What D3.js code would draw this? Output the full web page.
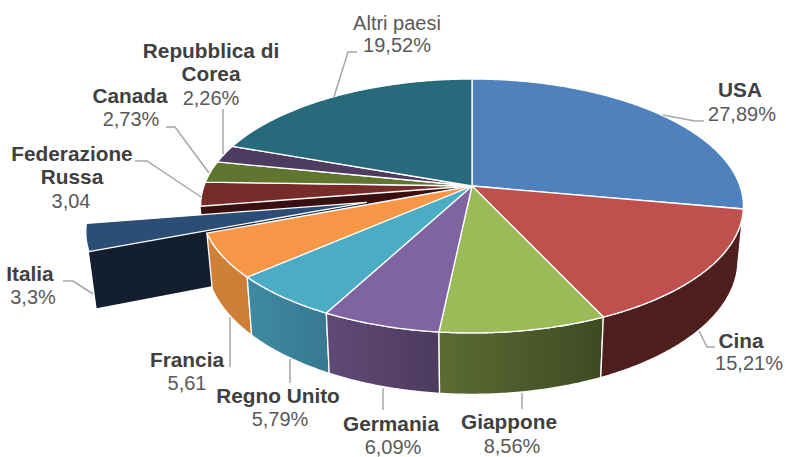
<!DOCTYPE html>
<html>
<head>
<meta charset="utf-8">
<script src="https://cdn.jsdelivr.net/npm/d3@7"></script>
<style>
  html, body { margin: 0; padding: 0; background: #fff; }
  svg { display: block; }
  text { font-family: "Liberation Sans", Arial, sans-serif; text-anchor: middle; }
</style>
</head>
<body>
<script>
const countries = ["USA", "Cina", "Giappone", "Germania", "Regno Unito", "Francia", "Italia", "Federazione Russa", "Canada", "Repubblica di Corea", "Altri paesi"];
const values = [27.89, 15.21, 8.56, 6.09, 5.79, 5.61, 3.3, 3.04, 2.73, 2.26, 19.52];
const valueLabels = ["27,89%", "15,21%", "8,56%", "6,09%", "5,79%", "5,61", "3,3%", "3,04", "2,73%", "2,26%", "19,52%"];
const topColors = ["#4f81bd", "#c0504d", "#9bbb59", "#8064a2", "#4bacc6", "#f79646", "#2c4d75", "#772c2a", "#5f7530", "#4d3b62", "#276a7c"];
// gradient of the rim, left to right on screen
const wallColors = {
  "Cina": ["#4f1f1e", "#4f1f1e"],
  "Giappone": ["#5b6c33", "#3f4a23"],
  "Germania": ["#604a76", "#4d3a5f"],
  "Regno Unito": ["#3f8ba3", "#37788f"],
  "Francia": ["#d08038", "#cc7f38"]
};

const width = 786, height = 457;
const cx = 472, cy = 186;
const A = 268, B = 123.8, tilt = 0.1575;   // perspective of the disc
const depth = 53, shrinkX = 0.98, growY = 1.057;   // bottom ring
const pull = 0.40, pullDrop = 0.025;               // exploded slice

const svg = d3.select("body").append("svg")
  .attr("width", width)
  .attr("height", height);

const x = d3.scaleLinear().domain([-1, 1]).range([-A, A]);
const y = d3.scaleLinear().domain([-1, 1]).range([-B, B]);

// unit disc -> screen, level 0 = top face, 1 = bottom ring
function project(u, v, level) {
  const w = 1 - tilt * v;
  if (!level) return [cx + x(u / w), cy + y(v / w)];
  return [cx + x(u / w) * shrinkX, cy + y(v / w) * growY + depth];
}

const pie = d3.pie().sort(null).value(d => d);
const arcs = pie(values);
const line = d3.line();

function rim(a0, a1, level, off) {
  const n = Math.max(2, Math.ceil((a1 - a0) / 0.01));
  return d3.range(n + 1).map(i => {
    const a = a0 + (a1 - a0) * i / n;
    return project(Math.sin(a) + off[0], -Math.cos(a) + off[1], level);
  });
}

function drawTop(d, off) {
  const c = project(off[0], off[1], 0);
  svg.append("path")
    .attr("d", line([c, ...rim(d.startAngle, d.endAngle, 0, off)]) + "Z")
    .attr("fill", topColors[d.index])
    .attr("stroke", "#fff").attr("stroke-width", 1.3).attr("stroke-linejoin", "round");
}

function drawWall(d, off, fill) {
  const top = rim(d.startAngle, d.endAngle, 0, off);
  const bottom = rim(d.startAngle, d.endAngle, 1, off).reverse();
  svg.append("path")
    .attr("d", line([...top, ...bottom]) + "Z")
    .attr("fill", fill)
    .attr("stroke", "#fff").attr("stroke-width", 1.3).attr("stroke-linejoin", "round");
}

const defs = svg.append("defs");
function gradient(name) {
  const id = "wall" + countries.indexOf(name);
  const g = defs.append("linearGradient").attr("id", id);
  g.append("stop").attr("offset", "0%").attr("stop-color", wallColors[name][0]);
  g.append("stop").attr("offset", "100%").attr("stop-color", wallColors[name][1]);
  return `url(#${id})`;
}

const none = [0, 0];
const italia = arcs[countries.indexOf("Italia")];
const russia = arcs[countries.indexOf("Federazione Russa")];
const mid = (italia.startAngle + italia.endAngle) / 2;
const off = [Math.sin(mid) * pull, -Math.cos(mid) * pull + pullDrop];

// cut face of the neighbour left open by the exploded slice
const ra = russia.startAngle;
const rimTop = project(Math.sin(ra), -Math.cos(ra), 0);
const rimBot = project(Math.sin(ra), -Math.cos(ra), 1);
svg.append("path")
  .attr("d", line([project(0, 0, 0), rimTop, rimBot, project(0, 0, 1)]) + "Z")
  .attr("fill", "#3a0f10");

// exploded slice, straight face then rim then top
const apexTop = project(off[0], off[1], 0);
const apexBot = project(off[0], off[1], 1);
const cornerTop = project(Math.sin(italia.startAngle) + off[0], -Math.cos(italia.startAngle) + off[1], 0);
const cornerBot = project(Math.sin(italia.startAngle) + off[0], -Math.cos(italia.startAngle) + off[1], 1);
drawWall(italia, off, "#4a6a92");
svg.append("path")
  .attr("d", line([apexTop, cornerTop, cornerBot, apexBot]) + "Z")
  .attr("fill", "#131f2e");
drawTop(italia, off);

// rim of the front half
Object.keys(wallColors).reverse().forEach(name => {
  drawWall(arcs[countries.indexOf(name)], none, gradient(name));
});

arcs.filter(d => d !== italia).forEach(d => drawTop(d, none));

// leader lines
const leaders = [
  [[663, 115], [695, 121], [704, 121]],
  [[699, 331], [707, 347], [715, 347]],
  [[522, 393], [522, 409]],
  [[383, 388], [383, 410]],
  [[290, 359], [290, 383]],
  [[230, 317], [230, 367]],
  [[63, 281], [73, 281], [93, 294]],
  [[135, 161], [147, 161], [201, 197]],
  [[166, 127], [175, 127], [209, 173]],
  [[223, 109], [223, 154]],
  [[357, 52], [348, 52], [334, 97]]
];
svg.selectAll("path.leader")
  .data(leaders)
  .enter()
  .append("path")
  .attr("class", "leader")
  .attr("d", line)
  .attr("fill", "none")
  .attr("stroke", "#a6a6a6")
  .attr("stroke-width", 1.5);

// labels: name lines, then the value
const nameLines = [["USA"], ["Cina"], ["Giappone"], ["Germania"], ["Regno Unito"], ["Francia"], ["Italia"], ["Federazione", "Russa"], ["Canada"], ["Repubblica di", "Corea"], ["Altri paesi"]];
const labelPos = [[740, 97], [741, 348], [509, 429], [391, 431], [278, 403], [187, 367], [30, 281], [72, 161], [130, 103], [211, 58], [397, 30]];
const valuePos = [[742, 121], [749, 370], [512, 453], [393, 454], [280, 426], [187, 390], [33, 304], [71, 208], [131, 126], [211, 105], [397, 52]];

countries.forEach((c, i) => {
  nameLines[i].forEach((t, j) => {
    svg.append("text")
      .attr("x", labelPos[i][0])
      .attr("y", labelPos[i][1] + j * 23)
      .attr("font-size", c === "Altri paesi" ? 20 : 20.8)
      .attr("font-weight", c === "Altri paesi" ? "normal" : "bold")
      .attr("fill", c === "Altri paesi" ? "#595959" : "#404040")
      .text(t);
  });
  svg.append("text")
    .attr("x", valuePos[i][0])
    .attr("y", valuePos[i][1])
    .attr("font-size", 20)
    .attr("fill", "#595959")
    .text(valueLabels[i]);
});
</script>
</body>
</html>
